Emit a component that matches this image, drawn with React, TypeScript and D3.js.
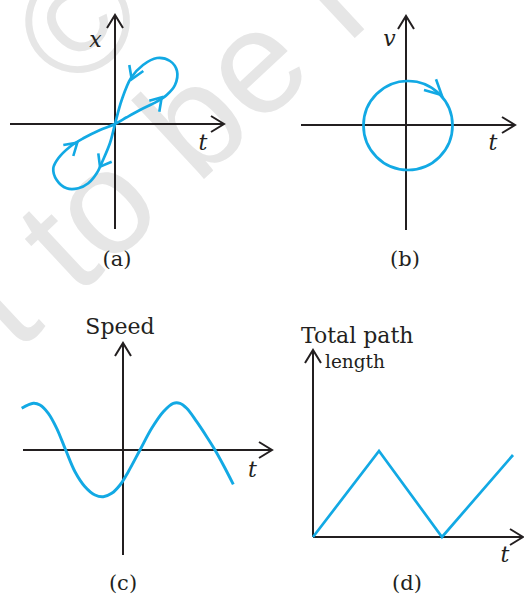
import React from "react";
import * as d3 from "d3";

// ---------- data (units: 1 = 100 px, origin at each panel's axes crossing) ----------
const panelLabels = ["(a)", "(b)", "(c)", "(d)"];
const axisLabelsY = ["x", "v", "Speed", "Total path"];
const axisLabelD2 = "length";

// (a) figure-eight x–t curve, traversal order
const loopUpper: [number, number][] = [
  [0, 0], [0.117, 0.067], [0.25, 0.14], [0.417, 0.223], [0.517, 0.29], [0.6, 0.39],
  [0.62, 0.53], [0.55, 0.63], [0.42, 0.66], [0.28, 0.59], [0.16, 0.46], [0.067, 0.24],
];
const loopLower: [number, number][] = [
  [0, 0], [-0.05, -0.19], [-0.12, -0.36], [-0.183, -0.493], [-0.267, -0.593], [-0.367, -0.643],
  [-0.483, -0.643], [-0.583, -0.56], [-0.617, -0.443], [-0.567, -0.343], [-0.45, -0.227],
  [-0.317, -0.143], [-0.15, -0.06],
];
const arrowsA: [number, number][][] = [
  [[0.343, 0.233], [0.467, 0.267], [0.443, 0.123]],
  [[0.143, 0.59], [0.167, 0.447], [0.283, 0.53]],
  [[-0.517, -0.21], [-0.377, -0.187], [-0.417, -0.32]],
  [[-0.167, -0.293], [-0.15, -0.427], [-0.033, -0.377]],
];

// (b) circular v–t curve
const circleB = { t: 0.02, v: -0.005, r: 0.445 };
const arrowB: [number, number][] = [[0.18, 0.35], [0.357, 0.3], [0.3, 0.457]];

// (c) speed–t curve
const speedC: [number, number][] = [
  [-1.013, 0.417], [-0.897, 0.467], [-0.83, 0.45], [-0.747, 0.367], [-0.663, 0.217],
  [-0.573, 0], [-0.48, -0.217], [-0.38, -0.367], [-0.28, -0.45], [-0.197, -0.467],
  [-0.113, -0.433], [-0.03, -0.35], [0.053, -0.217], [0.17, 0], [0.287, 0.217],
  [0.403, 0.383], [0.503, 0.467], [0.57, 0.467], [0.637, 0.417], [0.737, 0.283],
  [0.837, 0.133], [0.92, 0], [1.003, -0.15], [1.103, -0.343],
];

// (d) total path length – t
const pathD: [number, number][] = [[0, 0], [0.66, 0.86], [1.29, 0], [2.0, 0.82]];

// axis extents [tMin, tMax, yMin, yMax]
const axesExt = [
  [-1.05, 1.09, -1.05, 1.09],
  [-1.05, 1.09, -1.05, 1.09],
  [-1.0, 1.49, -1.05, 1.07],
  [0, 2.1, 0, 1.87],
];

// ---------- layout ----------
const W = 524, H = 597;
const origins = [[115, 124], [406, 125], [123, 450], [313, 537]];
const UNIT = 100;
const INK = "#231f20";
const BLUE = "#12a9e4";
const SERIF = "'DejaVu Serif', serif";

function scales(i: number) {
  const [ox, oy] = origins[i];
  const x = d3.scaleLinear().domain([0, 1]).range([ox, ox + UNIT]);
  const y = d3.scaleLinear().domain([0, 1]).range([oy, oy - UNIT]);
  return { x, y };
}

function Axes({ i }: { i: number }) {
  const { x, y } = scales(i);
  const [t0, t1, v0, v1] = axesExt[i];
  const ox = x(0), oy = y(0);
  const tx = x(t1), ty = y(v1);
  return (
    <g stroke={INK} strokeWidth={2} fill="none" strokeLinecap="butt">
      <line x1={x(t0)} y1={oy} x2={tx} y2={oy} />
      <line x1={ox} y1={y(v0)} x2={ox} y2={ty} />
      <polyline points={`${tx - 13},${oy - 8} ${tx},${oy} ${tx - 13},${oy + 8}`} strokeLinejoin="miter" />
      <polyline points={`${ox - 8},${ty + 13} ${ox},${ty} ${ox + 8},${ty + 13}`} strokeLinejoin="miter" />
    </g>
  );
}

function Chevron({ pts, i }: { pts: [number, number][]; i: number }) {
  const { x, y } = scales(i);
  return (
    <polyline
      points={pts.map((p) => `${x(p[0])},${y(p[1])}`).join(" ")}
      fill="none" stroke={BLUE} strokeWidth={2.6} strokeLinejoin="miter"
    />
  );
}

export default function App() {
  const sa = scales(0), sb = scales(1), sc = scales(2), sd = scales(3);
  const lineA = d3.line<[number, number]>().x((d) => sa.x(d[0])).y((d) => sa.y(d[1])).curve(d3.curveCatmullRomClosed.alpha(0.5));
  const lineC = d3.line<[number, number]>().x((d) => sc.x(d[0])).y((d) => sc.y(d[1])).curve(d3.curveCatmullRom.alpha(0.5));
  const lineD = d3.line<[number, number]>().x((d) => sd.x(d[0])).y((d) => sd.y(d[1]));

  const italic = { fontFamily: SERIF, fontStyle: "italic" as const, fontSize: 22, fill: INK };
  const upright = { fontFamily: SERIF, fontSize: 22, fill: INK };
  const labelStyle = { fontFamily: SERIF, fontSize: 21, fill: INK };

  return (
    <svg width={W} height={H} style={{ position: "absolute", left: 0, top: 0, display: "block" }}>
      <rect width={W} height={H} fill="#ffffff" />
      {/* watermark */}
      <g fill="#e6e6e6" fontFamily="'Liberation Sans', Arial, sans-serif" fontSize={148}>
        <text transform="translate(-104,466) rotate(-43)">not to be republished</text>
        <text transform="translate(77,20) rotate(-43)" x={0} y={52} textAnchor="middle">©</text>
      </g>

      {[0, 1, 2, 3].map((i) => <Axes key={i} i={i} />)}

      {/* (a) */}
      <path d={lineA([...loopUpper, ...loopLower]) || ""} fill="none" stroke={BLUE} strokeWidth={2.7} />
      {arrowsA.map((a, k) => <Chevron key={k} pts={a} i={0} />)}

      {/* (b) */}
      <circle cx={sb.x(circleB.t)} cy={sb.y(circleB.v)} r={sb.x(circleB.r) - sb.x(0)} fill="none" stroke={BLUE} strokeWidth={2.7} />
      <Chevron pts={arrowB} i={1} />

      {/* (c) */}
      <path d={lineC(speedC) || ""} fill="none" stroke={BLUE} strokeWidth={2.9} />

      {/* (d) */}
      <path d={lineD(pathD) || ""} fill="none" stroke={BLUE} strokeWidth={2.7} strokeLinejoin="miter" />

      {/* axis labels */}
      <text x={95.5} y={47} textAnchor="middle" {...italic}>{axisLabelsY[0]}</text>
      <text x={203} y={150} textAnchor="middle" {...italic}>t</text>
      <text x={389.5} y={46} textAnchor="middle" {...italic}>{axisLabelsY[1]}</text>
      <text x={493} y={150} textAnchor="middle" {...italic}>t</text>
      <text x={120} y={334} textAnchor="middle" {...upright}>{axisLabelsY[2]}</text>
      <text x={252.5} y={477} textAnchor="middle" {...italic}>t</text>
      <text x={301} y={343} {...upright}>{axisLabelsY[3]}</text>
      <text x={325} y={368} fontFamily={SERIF} fontSize={18.5} fill={INK}>{axisLabelD2}</text>
      <text x={505} y={562} textAnchor="middle" {...italic}>t</text>

      {/* panel labels */}
      <text x={117} y={266} textAnchor="middle" {...labelStyle}>{panelLabels[0]}</text>
      <text x={405} y={266} textAnchor="middle" {...labelStyle}>{panelLabels[1]}</text>
      <text x={123} y={590} textAnchor="middle" {...labelStyle}>{panelLabels[2]}</text>
      <text x={407} y={590} textAnchor="middle" {...labelStyle}>{panelLabels[3]}</text>
    </svg>
  );
}
